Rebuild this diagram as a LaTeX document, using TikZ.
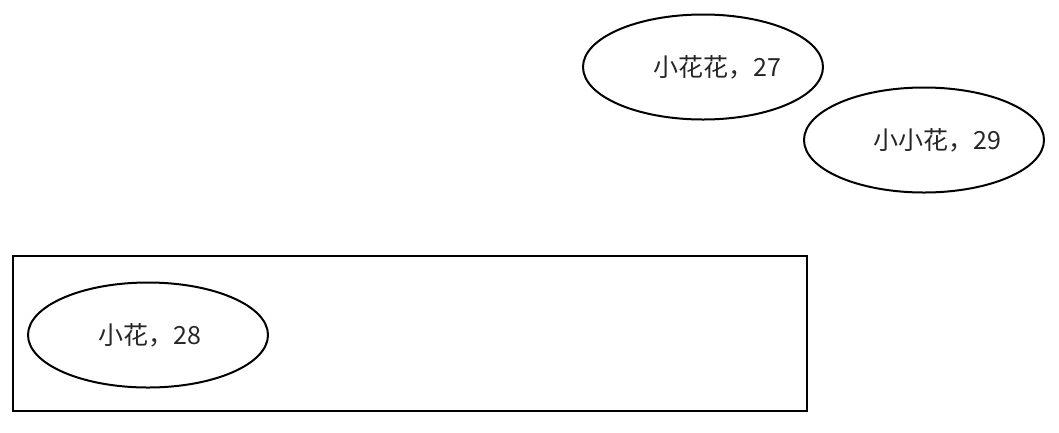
\documentclass[tikz,border=0pt]{standalone}
\usepackage{fontspec}
\setmainfont{Noto Sans CJK SC}
\usetikzlibrary{shapes.geometric}
\begin{document}
\begin{tikzpicture}[
  x=1pt, y=-1pt,
  every node/.style={font=\fontsize{25}{29}\selectfont, text=black!85},
  blob/.style={draw, line width=2pt, ellipse, minimum width=240pt, minimum height=105pt, inner sep=0pt},
]
% canvas
\useasboundingbox (0,0) rectangle (1059,432);

% outer box
\draw[line width=2pt] (13,256) rectangle (807,411);

% ellipses
\node[blob] (hua27) at (703,67) {};
\node[blob] (hua29) at (924,140) {};
\node[blob] (hua28) at (148,335) {};

% labels, a bit right of centre
\node (t27) at (717,67) {小花花，27};
\node (t29) at (937,140) {小小花，29};
\node (t28) at (150,335) {小花，28};
\end{tikzpicture}
\end{document}
